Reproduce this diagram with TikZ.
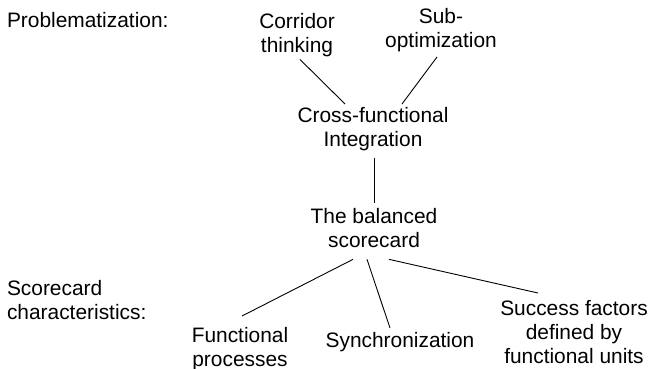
\documentclass[tikz,border=0pt]{standalone}
\usepackage{fontspec}
\setmainfont{Liberation Sans}
\begin{document}
\begin{tikzpicture}[x=1pt,y=-1pt,
  lbl/.style={inner sep=0pt,outer sep=0pt,align=center,anchor=north,
    font=\fontsize{20.9}{24}\selectfont},
  side/.style={lbl,align=left},
  link/.style={draw=black,line width=0.9pt}]
\useasboundingbox (0,0) rectangle (650,369);

% row labels
\node[side,anchor=base west] (prob) at (7,28) {Problematization:};
\node[side,anchor=north west] (schar) at (7,280) {Scorecard\\characteristics:};

% concept nodes
\node[lbl] (corr) at (297,13) {Corridor\\thinking};
\node[lbl] (sub)  at (441,8)  {Sub-\\optimization};
\node[lbl] (cross) at (373,107) {Cross-functional\\Integration};
\node[lbl] (bsc)  at (374,208) {The balanced\\scorecard};
\node[lbl] (func) at (240,327) {Functional\\processes};
\node[lbl] (sync) at (400,332) {Synchronization};
\node[lbl] (succ) at (574,300) {Success factors\\defined by\\functional units};

% connectors
\draw[link] ([xshift=3pt,yshift=-3pt]corr.south) -- ([xshift=-28pt,yshift=3pt]cross.north);
\draw[link] ([xshift=-4pt,yshift=-5.5pt]sub.south) -- ([xshift=29pt,yshift=3pt]cross.north);
\draw[link] ([xshift=1pt,yshift=-8pt]cross.south) -- ([yshift=5pt]bsc.north);
\draw[link] ([xshift=-21pt,yshift=-12pt]bsc.south) -- ([xshift=2pt,yshift=11pt]func.north);
\draw[link] ([xshift=-7pt,yshift=-12pt]bsc.south) -- ([xshift=-10pt,yshift=4pt]sync.north);
\draw[link] ([xshift=15pt,yshift=-12pt]bsc.south) -- ([xshift=-36pt,yshift=7pt]succ.north);
\end{tikzpicture}
\end{document}
